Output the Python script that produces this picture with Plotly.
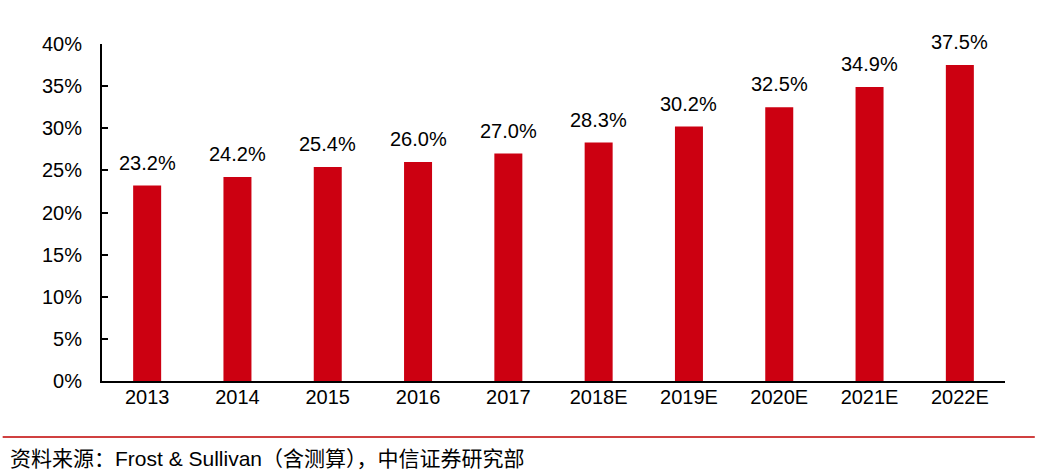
import plotly.graph_objects as go

years = ["2013", "2014", "2015", "2016", "2017", "2018E", "2019E", "2020E", "2021E", "2022E"]
values = [23.2, 24.2, 25.4, 26.0, 27.0, 28.3, 30.2, 32.5, 34.9, 37.5]
y_ticks = [0, 5, 10, 15, 20, 25, 30, 35, 40]
y_tick_labels = [f"{v}%" for v in y_ticks]
source_text = "资料来源：Frost & Sullivan（含测算），中信证券研究部"

FONT = "Liberation Sans, Arial, Noto Sans CJK SC, sans-serif"
RED = "#CC0011"

fig = go.Figure()
fig.add_trace(go.Bar(
    x=years, y=values,
    marker=dict(color=RED, line=dict(width=0)),
    width=0.31,
    hoverinfo="skip",
))

# category axis: annotations are positioned by category index
for i, yv in enumerate(values):
    fig.add_annotation(
        x=i, y=yv, text=f"{yv:.1f}%", showarrow=False,
        yanchor="bottom", yshift=10,
        font=dict(size=20, color="#000000", family=FONT),
    )

fig.add_shape(type="line", xref="paper", yref="paper",
              x0=-0.11, x1=1.033, y0=-0.166, y1=-0.166,
              line=dict(color="#C00000", width=1.5))
fig.add_annotation(xref="paper", yref="paper", x=-0.104, y=-0.229,
                   xanchor="left", yanchor="middle", showarrow=False,
                   text=source_text,
                   font=dict(size=21, color="#000000", family=FONT))

fig.update_layout(
    width=1040, height=474,
    margin=dict(l=102, r=35, t=44, b=93, autoexpand=False),
    paper_bgcolor="white", plot_bgcolor="white",
    showlegend=False,
    font=dict(family=FONT, size=20, color="#000000"),
    xaxis=dict(
        type="category", categoryorder="array", categoryarray=years,
        range=[-0.5, len(years) - 0.5],
        automargin=False,
        showline=True, linecolor="#000000", linewidth=2,
        ticks="", showgrid=False, ticklabelstandoff=-3,
        tickfont=dict(size=20, family=FONT),
    ),
    yaxis=dict(
        range=[0, 40], tickvals=y_ticks, ticktext=y_tick_labels, automargin=False,
        showline=True, linecolor="#000000", linewidth=2,
        ticks="inside", ticklen=6, tickwidth=2, tickcolor="#000000",
        showgrid=False, zeroline=False, ticklabelstandoff=14,
        tickfont=dict(size=20, family=FONT),
    ),
)

fig.write_html(
    "out.html",
    config={"displayModeBar": False},
    post_script="document.body.style.margin='0';document.body.style.padding='0';",
)
